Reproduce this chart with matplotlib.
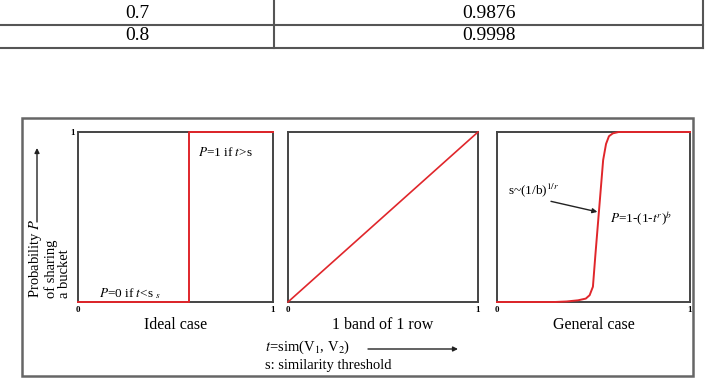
import matplotlib.pyplot as plt
from matplotlib.patches import Rectangle

plt.rcParams['font.family'] = ['Liberation Serif', 'DejaVu Serif']
plt.rcParams['mathtext.fontset'] = 'stix'

# table rows still visible above the figure
thresholds = ['0.7', '0.8']
probabilities = ['0.9876', '0.9998']

# ideal case: step at the threshold
ideal_t = [0.0, 0.57, 0.57, 1.0]
ideal_p = [0.0, 0.0, 1.0, 1.0]

# 1 band of 1 row: straight line
band_t = [0.0, 1.0]
band_p = [0.0, 1.0]

# general case S-curve
gen_t = [0.0, 0.30, 0.36, 0.42, 0.46, 0.48, 0.497, 0.51, 0.528, 0.55,
         0.565, 0.58, 0.60, 0.63, 1.0]
gen_p = [0.0, 0.0, 0.003, 0.01, 0.02, 0.04, 0.09, 0.28, 0.53, 0.835,
         0.93, 0.975, 0.992, 1.0, 1.0]

panel_titles = ['Ideal case', '1 band of 1 row', 'General case']

W, H = 706, 378
fig = plt.figure(figsize=(W / 100, H / 100), dpi=100)

# background axes in pixel coordinates for table, frame and labels
bg = fig.add_axes([0, 0, 1, 1])
bg.set_xlim(0, W)
bg.set_ylim(H, 0)
bg.axis('off')

red = '#e0262b'

# --- table ---
row_y = [13, 36]
for y in [24.5, 48]:
    bg.plot([0, 703], [y, y], color='#555555', lw=1.5)
bg.plot([274, 274], [0, 48], color='#555555', lw=1.5)
bg.plot([703, 703], [0, 48], color='#555555', lw=1.5)
for y, a, b in zip(row_y, thresholds, probabilities):
    bg.text(137, y, a, ha='center', va='center', fontsize=14)
    bg.text(489, y, b, ha='center', va='center', fontsize=14)

# --- outer frame of the figure ---
bg.add_patch(Rectangle((22, 118), 671, 258, fill=False, ec='#666666', lw=1.8))

# --- panels ---
panels = [(78, 273), (288, 478), (497, 690)]
top, bottom = 132, 302
axes = []
for (x0, x1), title in zip(panels, panel_titles):
    ax = fig.add_axes([x0 / W, 1 - bottom / H, (x1 - x0) / W, (bottom - top) / H])
    ax.set_xlim(0, 1)
    ax.set_ylim(0, 1)
    for s in ax.spines.values():
        s.set_color('#444444')
        s.set_linewidth(1.4)
    ax.set_xticks([0, 1])
    ax.set_xticklabels(['0', '1'], fontsize=6.5, fontweight='bold')
    ax.set_yticks([])
    ax.tick_params(length=0, pad=3)
    ax.set_title(title, y=-0.09, pad=0, fontsize=11.5, va='top')
    axes.append(ax)

ax1, ax2, ax3 = axes
ax1.set_yticks([1])
ax1.set_yticklabels(['1'], fontsize=6.5, fontweight='bold')
ax1.tick_params(axis='y', length=0, pad=2)

ax1.plot(ideal_t, ideal_p, color=red, lw=1.4, clip_on=False, zorder=3)
ax1.text(0.615, 0.88, r'$P$=1 if $t$>s', fontsize=9.5, va='center')
ax1.text(0.11, 0.05, r'$P$=0 if $t$<s $_{s}$', fontsize=9.5, va='center')

ax2.plot(band_t, band_p, color=red, lw=1.2, clip_on=False, zorder=3)

ax3.plot(gen_t, gen_p, color=red, lw=1.4, clip_on=False, zorder=3)
ax3.annotate(r's~(1/b)$^{1/r}$', xy=(0.52, 0.53), xytext=(0.057, 0.66),
             fontsize=9.5, va='center',
             arrowprops=dict(arrowstyle='-|>', color='#222222', lw=1.0,
                             mutation_scale=7, shrinkA=0, shrinkB=0,
                             relpos=(0.6, 0.0)))
ax3.text(0.585, 0.49, r'$P$=1-(1-$t^r$)$^b$', fontsize=9.5, va='center')

# --- y label with arrow ---
for x, line in zip([36, 51, 65], ['Probability $P$', 'of sharing', 'a bucket']):
    bg.text(x, 298, line, rotation=90, rotation_mode='anchor',
            ha='left', va='center', fontsize=10.5)
bg.annotate('', xy=(37, 148), xytext=(37, 222),
            arrowprops=dict(arrowstyle='-|>', color='#222222', lw=1.0,
                            mutation_scale=7, shrinkA=0, shrinkB=0))

# --- x label with arrow ---
bg.text(265, 347, r'$t$=sim(V$_1$, V$_2$)', fontsize=10.5, va='center')
bg.text(265, 365, 's: similarity threshold', fontsize=10.5, va='center')
bg.annotate('', xy=(458, 349), xytext=(368, 349),
            arrowprops=dict(arrowstyle='-|>', color='#222222', lw=1.0,
                            mutation_scale=7, shrinkA=0, shrinkB=0))

fig.savefig('out.png', dpi=100)
